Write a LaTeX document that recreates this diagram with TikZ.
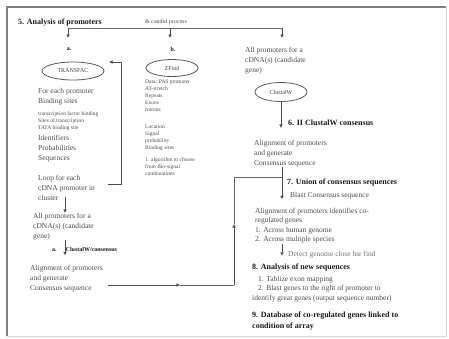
\documentclass[tikz,border=0pt]{standalone}
\usepackage{fontspec}
\setmainfont{Liberation Serif}
\usetikzlibrary{shapes.geometric, arrows.meta}

\begin{document}
\begin{tikzpicture}[x=1pt,y=-1pt,
	txt/.style={anchor=north west, inner sep=0pt, align=left, text=black!70, font=\fontsize{7.5}{10}\selectfont},
	small/.style={txt, font=\fontsize{5.5}{7}\selectfont},
	head/.style={anchor=west, inner sep=0pt, align=left, text=black!90, font=\fontsize{8}{10.5}\selectfont\bfseries},
	prog/.style={ellipse, draw=black!65, thick, inner sep=0pt, text=black!75, font=\fontsize{6}{7}\selectfont},
	arr/.style={-{Latex[length=3.5pt,width=3.5pt]}, black!70},
	wire/.style={black!60}]

	\useasboundingbox (0,0) rectangle (449,338);
	\draw[black!50, line width=1.3pt] (7,336) -- (7,7) -- (446,7);
	\draw[black!15] (446,7) -- (446,336) -- (7,336);

	% top row
	\node (title) [head] at (18,23) {5. Analysis of promoters};
	\node (cand) [txt, anchor=west, font=\fontsize{6}{7}\selectfont] at (145,22) {\& candid process};
	\coordinate (ta) at (68,28);
	\coordinate (tb) at (170,28);
	\coordinate (tc) at (282,28);
	\draw[wire] (ta) -- (tc);
	\draw[arr] (ta) -- ++(0,10);
	\draw[arr] (tb) -- ++(0,10);
	\draw[arr] (tc) -- ++(0,10);
	\node (la) [head, anchor=center, font=\fontsize{6}{7}\selectfont\bfseries] at (69,49) {a.};
	\node (lb) [head, anchor=center, font=\fontsize{6}{7}\selectfont\bfseries] at (173,49) {b.};

	% a. TRANSFAC
	\node (transfac) [prog, minimum width=62pt, minimum height=18pt] at (73,71) {TRANSFAC};
	\node (tf1) [txt] at (38,88) {For each promoter\\Binding sites};
	\node (tf2) [small] at (38,111) {transcription factor binding\\Sites of transcription\\TATA binding site};
	\node (tf3) [txt] at (38,135) {Identifiers\\Probabilities\\Sequences};
	\node (loop) [txt] at (38,175) {Loop for each\\cDNA promoter in\\cluster};
	\node (allA) [txt] at (33,213) {All promoters for a\\cDNA(s) (candidate\\gene)};
	\node (clusA) [head, font=\fontsize{6}{8}\selectfont\bfseries] at (52,249) {a.\hspace{9pt}ClustalW/consensus};
	\node (alignA) [txt] at (30,265) {Alignment of promoters\\and generate\\Consensus sequence};

	\coordinate (lp1) at (108,184);
	\coordinate (lp2) at (121,184);
	\coordinate (lp3) at (121,62);
	\coordinate (lp4) at (109,62);
	\draw[arr] (lp1) -- (lp2) -- (lp3) -- (lp4);
	\coordinate (lc) at (65,197);
	\draw[arr] (lc) -- (allA.north -| lc);
	\draw[arr] (allA.south -| lc) -- ++(0,15);

	% b. ZFind
	\node (zfind) [prog, minimum width=52pt, minimum height=17pt] at (172,68) {ZFind};
	\node (zf1) [small] at (145,80) {Data: PAS promoter\\AT-stretch\\Repeats\\Exons\\Introns};
	\node (zf2) [small] at (145,125) {Location\\Signal\\probability\\Binding sites};
	\node (zf3) [small] at (145,157) {1. algorithm to choose\\from Bio-signal\\combinations};

	% right column
	\node (allB) [txt] at (245,47) {All promoters for a\\cDNA(s) (candidate\\gene)};
	\node (clustal) [prog, minimum width=52pt, minimum height=19pt] at (281,92) {ClustalW};
	\draw[arr] (clustal.south) -- ++(0,26);
	\node (consB) [head] at (288,123) {6. II ClustalW consensus};
	\node (alignB) [txt] at (254,140) {Alignment of promoters\\and generate\\Consensus sequence};

	\coordinate (u1) at (108,285);
	\coordinate (u2) at (180,285);
	\coordinate (u3) at (234,285);
	\coordinate (u4) at (234,224);
	\coordinate (u5) at (234,177);
	\coordinate (u6) at (282,177);
	\draw[arr] (u1) -- (u2);
	\draw[wire] (u2) -- (u3);
	\draw[arr] (u3) -- (u4);
	\draw[wire] (u4) -- (u5) -- (u6);
	\draw[arr] (alignB.south -| u6) -- ++(0,32);

	\node (union) [head] at (287,183) {7. Union of consensus sequences};
	\node (blast) [txt, anchor=west] at (290,196) {Blast Consensus sequence};
	\node (idB) [txt, font=\fontsize{7.5}{9.5}\selectfont] at (255,208) {Alignment of promoters identifies co-\\regulated genes\\1. Across human genome\\2. Across multiple species};
	\draw[arr] (idB.south -| u6) -- ++(0,12);
	\node (detect) [txt, anchor=west, text=black!55] at (288,255) {Detect genome close hsr find};
	\node (newseq) [head] at (252,268) {8. Analysis of new sequences};
	\node (newl) [txt, font=\fontsize{7.5}{9.5}\selectfont] at (252,276) {\hspace*{6pt}1. Tablize exon mapping\\\hspace*{6pt}2. Blast genes to the right of promoter to\\identify great genes (output sequence number)};
	\node (db) [head, anchor=north west] at (252,312) {9. Database of co-regulated genes linked to\\condition of array};

\end{tikzpicture}
\end{document}
